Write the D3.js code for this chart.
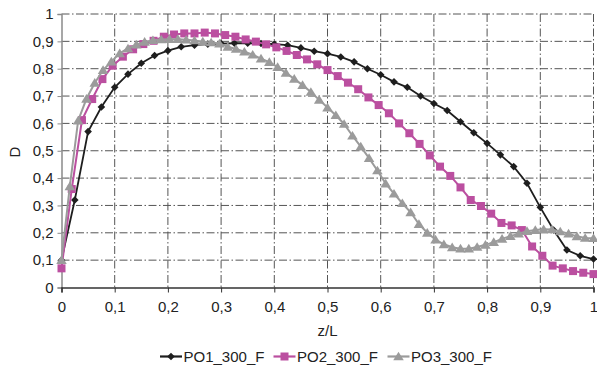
<!DOCTYPE html>
<html><head><meta charset="utf-8">
<script src="https://cdn.jsdelivr.net/npm/d3@7"></script>
<style>body{margin:0;background:#fff}svg{display:block}</style>
</head><body><svg id="c" width="597" height="373"></svg>
<script>
const seriesNames = ["PO1_300_F", "PO2_300_F", "PO3_300_F"];
// PO1: 41 samples over z/L = 0..1
const po1 = [0.10, 0.32, 0.57, 0.66, 0.732, 0.78, 0.82, 0.848, 0.866, 0.88, 0.886,
  0.89, 0.892, 0.893, 0.893, 0.892, 0.89, 0.886, 0.876, 0.864, 0.855,
  0.843, 0.825, 0.80, 0.778, 0.752, 0.732, 0.70, 0.673, 0.647, 0.606,
  0.566, 0.527, 0.485, 0.442, 0.381, 0.293, 0.21, 0.137, 0.116, 0.104];
// PO2: 53 samples over z/L = 0..1
const po2 = [0.07, 0.36, 0.612, 0.689, 0.762, 0.811, 0.844, 0.871, 0.89, 0.902,
  0.917, 0.925, 0.929, 0.929, 0.932, 0.929, 0.923, 0.917, 0.907, 0.899,
  0.889, 0.878, 0.865, 0.85, 0.834, 0.816, 0.795, 0.773, 0.749, 0.725,
  0.695, 0.667, 0.637, 0.60, 0.564, 0.525, 0.483, 0.442, 0.408, 0.366,
  0.32, 0.298, 0.27, 0.236, 0.227, 0.21, 0.15, 0.116, 0.08, 0.07,
  0.06, 0.054, 0.049];
// PO3: 65 samples over z/L = 0..1
const po3 = [0.10, 0.37, 0.61, 0.69, 0.748, 0.795, 0.826, 0.856, 0.874, 0.888,
  0.898, 0.904, 0.907, 0.908, 0.908, 0.906, 0.903, 0.899, 0.896, 0.892,
  0.88, 0.872, 0.862, 0.851, 0.837, 0.824, 0.806, 0.785, 0.763, 0.74,
  0.715, 0.686, 0.658, 0.63, 0.598, 0.555, 0.515, 0.473, 0.428, 0.38,
  0.343, 0.308, 0.275, 0.232, 0.20, 0.175, 0.158, 0.147, 0.142, 0.142,
  0.148, 0.156, 0.166, 0.178, 0.188, 0.197, 0.206, 0.21, 0.213, 0.212,
  0.205, 0.197, 0.187, 0.181, 0.18];
const xTickValues = [0, 0.1, 0.2, 0.3, 0.4, 0.5, 0.6, 0.7, 0.8, 0.9, 1];
const yTickValues = [0, 0.1, 0.2, 0.3, 0.4, 0.5, 0.6, 0.7, 0.8, 0.9, 1];
const fmt = v => String(+v.toFixed(1)).replace(".", ",");

const colors = ["#1e1e1e", "#bb4fa0", "#9b9b9b"];
const L = 61.5, R = 593.5, T = 14, B = 287.5;
const svg = d3.select("#c");
const x = d3.scaleLinear().domain([0, 1]).range([L, R]);
const y = d3.scaleLinear().domain([0, 1]).range([B, T]);
const FONT = "'Liberation Sans', Arial, sans-serif";

// grid
const dash = "8,2.5,1.5,2.5";
svg.append("g").selectAll("line.h").data(yTickValues.filter(v => v > 0)).join("line")
  .attr("x1", L).attr("x2", R).attr("y1", d => y(d)).attr("y2", d => y(d))
  .attr("stroke", "#555").attr("stroke-width", 1).attr("stroke-dasharray", dash);
svg.append("g").selectAll("line.v").data(xTickValues.filter(v => v > 0)).join("line")
  .attr("x1", d => x(d)).attr("x2", d => x(d)).attr("y1", T).attr("y2", B)
  .attr("stroke", "#555").attr("stroke-width", 1).attr("stroke-dasharray", dash);

// axes
const yAxis = d3.axisLeft(y).tickValues(yTickValues).tickFormat(fmt).tickSize(4).tickPadding(4);
const gy = svg.append("g").attr("transform", `translate(${L},0)`).call(yAxis);
gy.select(".domain").attr("stroke", "#8a8a8a").attr("stroke-width", 1.5);
gy.selectAll(".tick line").attr("stroke", "#8a8a8a");
gy.selectAll("text").attr("font-family", FONT).attr("font-size", 15).attr("fill", "#222");

const xAxis = d3.axisBottom(x).tickValues(xTickValues).tickFormat(fmt).tickSize(5).tickPadding(9);
const gx = svg.append("g").attr("transform", `translate(0,${B})`).call(xAxis);
gx.select(".domain").attr("stroke", "#333").attr("stroke-width", 1.5);
gx.selectAll(".tick line").attr("stroke", "#333");
gx.selectAll("text").attr("font-family", FONT).attr("font-size", 15).attr("fill", "#222");

// titles
svg.append("text").attr("x", x(0.5)).attr("y", 336).attr("text-anchor", "middle")
  .attr("font-family", FONT).attr("font-size", 15).attr("fill", "#222").text("z/L");
svg.append("text").attr("transform", "translate(20,152) rotate(-90)").attr("text-anchor", "middle")
  .attr("font-family", FONT).attr("font-size", 15).attr("fill", "#222").text("D");

// markers
const diamond = r => `M0,${-r}L${r},0L0,${r}L${-r},0Z`;
const square = r => `M${-r},${-r}H${r}V${r}H${-r}Z`;
const tri = r => `M0,${-r}L${r * 1.1},${r * 0.8}L${-r * 1.1},${r * 0.8}Z`;
const shapes = [diamond(3.8), square(4), tri(4.8)];

const data = [po1, po2, po3];
const line = d3.line().x(d => x(d[0])).y(d => y(d[1]));
data.forEach((vals, s) => {
  const pts = vals.map((v, i) => [i / (vals.length - 1), v]);
  const g = svg.append("g");
  g.append("path").attr("d", line(pts)).attr("fill", "none")
    .attr("stroke", colors[s]).attr("stroke-width", s === 0 ? 1.8 : 2);
  g.selectAll("path.m").data(pts).join("path").attr("class", "m")
    .attr("transform", d => `translate(${x(d[0])},${y(d[1])})`)
    .attr("d", shapes[s]).attr("fill", colors[s]);
});

// legend
const legX = [160, 273.5, 387.5];
const legY = 356.5;
seriesNames.forEach((n, s) => {
  const g = svg.append("g").attr("transform", `translate(${legX[s]},${legY})`);
  g.append("line").attr("x1", 0).attr("x2", 22).attr("stroke", colors[s]).attr("stroke-width", 2.2);
  g.append("path").attr("transform", "translate(11,0)").attr("d", shapes[s]).attr("fill", colors[s]);
  g.append("text").attr("x", 23.5).attr("y", 5.3).attr("font-family", FONT).attr("font-size", 15)
    .attr("fill", "#222").text(n);
});
</script></body></html>
